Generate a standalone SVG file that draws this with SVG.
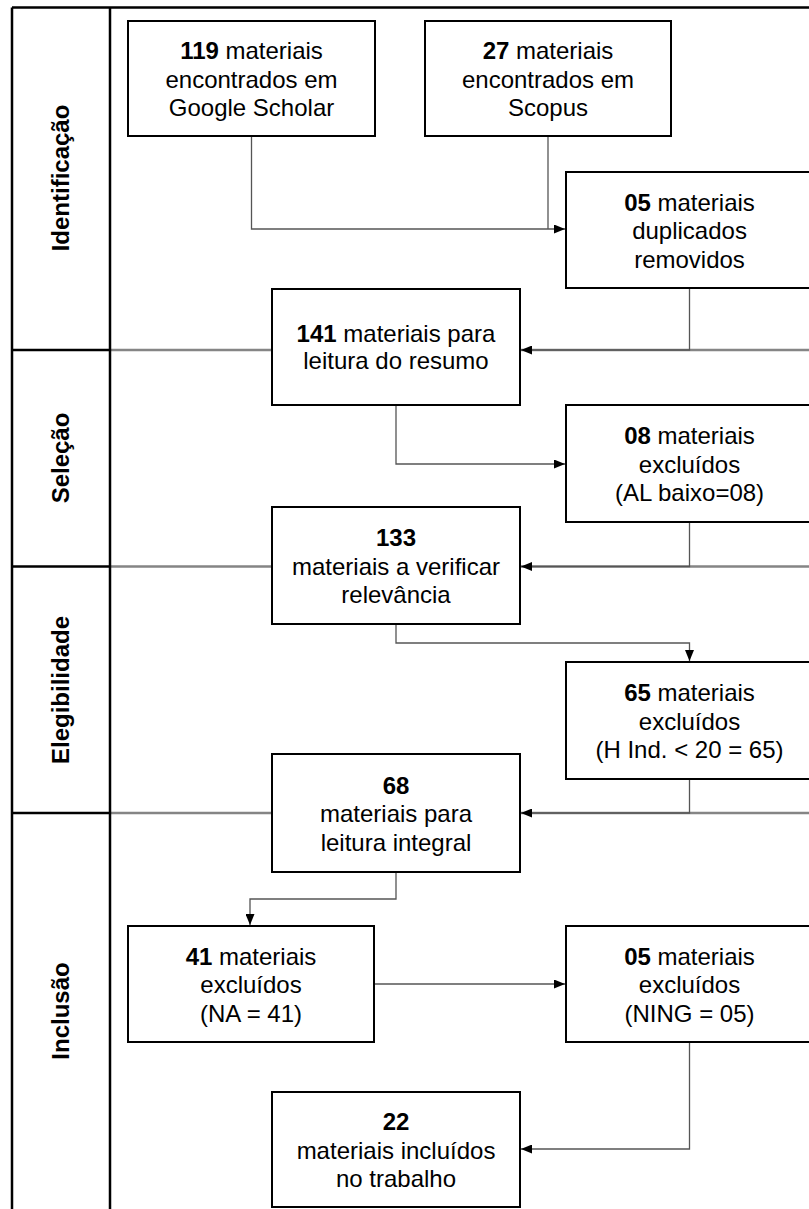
<svg xmlns="http://www.w3.org/2000/svg" width="809" height="1209" viewBox="0 0 809 1209">
<style>
.frame{stroke:#000;stroke-width:2.5;fill:none}
.div{stroke:#858585;stroke-width:2.5;fill:none}
.box{fill:#fff;stroke:#000;stroke-width:2}
.t{font-family:"Liberation Sans",Arial,sans-serif;font-size:24px;fill:#000;text-anchor:middle}
.b{font-weight:bold}
.lbl{font-family:"Liberation Sans",Arial,sans-serif;font-size:24px;font-weight:bold;fill:#000;text-anchor:middle}
.c{stroke:#555;stroke-width:1.3;fill:none}
</style>
<defs>
<marker id="arr" viewBox="0 0 11 9" refX="11" refY="4.5" markerWidth="11" markerHeight="9" markerUnits="userSpaceOnUse" orient="auto">
<path d="M0,0 L11,4.5 L0,9 z" fill="#000"/>
</marker>
</defs>
<rect x="0" y="0" width="809" height="1209" fill="#fff"/>
<g id="frame">
<path class="div" d="M110,350 H809 M110,566.5 H809 M110,813 H809"/>
<path class="frame" d="M12,7.5 H809 M12,7.5 V1209 M110,7.5 V1209 M12,350 H110 M12,566.5 H110 M12,813 H110"/>
<text class="lbl" transform="translate(69,178) rotate(-90)">Identificação</text>
<text class="lbl" transform="translate(69,458) rotate(-90)">Seleção</text>
<text class="lbl" transform="translate(69,690) rotate(-90)">Elegibilidade</text>
<text class="lbl" transform="translate(69,1011) rotate(-90)">Inclusão</text>
</g>
<g id="connectors">
<path class="c" d="M251.5,136 V229 H565" marker-end="url(#arr)"/>
<path class="c" d="M548,136 V229"/>
<path class="c" d="M689.5,288 V350 H521" marker-end="url(#arr)"/>
<path class="c" d="M396,405 V464 H565" marker-end="url(#arr)"/>
<path class="c" d="M689.5,522 V566.5 H521" marker-end="url(#arr)"/>
<path class="c" d="M396,624 V643 H689.5 V661" marker-end="url(#arr)"/>
<path class="c" d="M689.5,779 V813 H521" marker-end="url(#arr)"/>
<path class="c" d="M396,872 V899 H250 V925" marker-end="url(#arr)"/>
<path class="c" d="M374,984 H565" marker-end="url(#arr)"/>
<path class="c" d="M689.5,1042 V1149 H521" marker-end="url(#arr)"/>
</g>
<g id="n119">
<rect class="box" x="128" y="21" width="247" height="115"/>
<text class="t" x="251.5" y="59"><tspan class="b">119</tspan> materiais</text>
<text class="t" x="251.5" y="87.5">encontrados em</text>
<text class="t" x="251.5" y="116">Google Scholar</text>
</g>
<g id="n27">
<rect class="box" x="425" y="21" width="246" height="115"/>
<text class="t" x="548" y="59"><tspan class="b">27</tspan> materiais</text>
<text class="t" x="548" y="87.5">encontrados em</text>
<text class="t" x="548" y="116">Scopus</text>
</g>
<g id="n05dup">
<rect class="box" x="566" y="172" width="247" height="116"/>
<text class="t" x="689.5" y="210.5"><tspan class="b">05</tspan> materiais</text>
<text class="t" x="689.5" y="239">duplicados</text>
<text class="t" x="689.5" y="267.5">removidos</text>
</g>
<g id="n141">
<rect class="box" x="272" y="289" width="248" height="116"/>
<text class="t" x="396" y="341.5"><tspan class="b">141</tspan> materiais para</text>
<text class="t" x="396" y="369">leitura do resumo</text>
</g>
<g id="n08">
<rect class="box" x="566" y="405" width="247" height="117"/>
<text class="t" x="689.5" y="444"><tspan class="b">08</tspan> materiais</text>
<text class="t" x="689.5" y="472.5">excluídos</text>
<text class="t" x="689.5" y="501">(AL baixo=08)</text>
</g>
<g id="n133">
<rect class="box" x="272" y="507" width="248" height="117"/>
<text class="t b" x="396" y="546">133</text>
<text class="t" x="396" y="574.5">materiais a verificar</text>
<text class="t" x="396" y="603">relevância</text>
</g>
<g id="n65">
<rect class="box" x="566" y="662" width="247" height="117"/>
<text class="t" x="689.5" y="701"><tspan class="b">65</tspan> materiais</text>
<text class="t" x="689.5" y="729.5">excluídos</text>
<text class="t" x="689.5" y="758">(H Ind. &lt; 20 = 65)</text>
</g>
<g id="n68">
<rect class="box" x="272" y="754" width="248" height="118"/>
<text class="t b" x="396" y="793.5">68</text>
<text class="t" x="396" y="822">materiais para</text>
<text class="t" x="396" y="850.5">leitura integral</text>
</g>
<g id="n41">
<rect class="box" x="128" y="926" width="246" height="116"/>
<text class="t" x="251" y="964.5"><tspan class="b">41</tspan> materiais</text>
<text class="t" x="251" y="993">excluídos</text>
<text class="t" x="251" y="1021.5">(NA = 41)</text>
</g>
<g id="n05ning">
<rect class="box" x="566" y="926" width="247" height="116"/>
<text class="t" x="689.5" y="964.5"><tspan class="b">05</tspan> materiais</text>
<text class="t" x="689.5" y="993">excluídos</text>
<text class="t" x="689.5" y="1021.5">(NING = 05)</text>
</g>
<g id="n22">
<rect class="box" x="272" y="1092" width="248" height="115"/>
<text class="t b" x="396" y="1130">22</text>
<text class="t" x="396" y="1158.5">materiais incluídos</text>
<text class="t" x="396" y="1187">no trabalho</text>
</g>
</svg>
